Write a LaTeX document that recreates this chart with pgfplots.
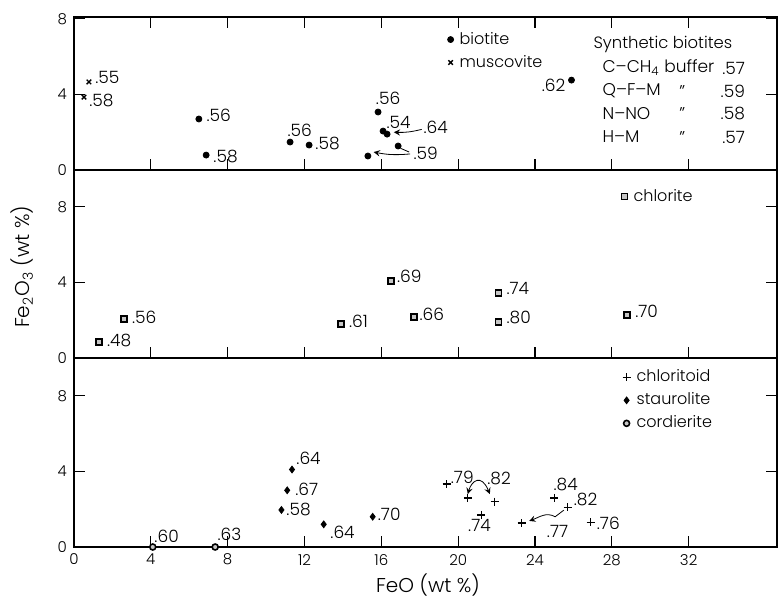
\documentclass[border=0pt]{standalone}
\usepackage{fontspec}
\IfFontExistsTF{Poppins Light}{\setmainfont{Poppins Light}}{\setmainfont{Poppins}}
\usepackage{pgfplots}
\pgfplotsset{compat=1.18}

\pgfplotsset{
  panel/.style={
    scale only axis, width=351.5pt, anchor=south west,
    xmin=0, xmax=36.6, xtick={0,4,...,32}, ytick={0,4,8},
    tick align=inside, major tick length=5.5pt,
    axis line style={line width=0.7pt},
    every tick/.append style={line width=0.6pt, black},
    tick label style={font=\fontsize{7.5}{9}\selectfont},
    /pgf/number format/assume math mode=true,
    clip=false,
    legend image code/.code={\draw[##1] plot coordinates {(0pt,0pt)};},
    legend style={draw=none, fill=none, inner sep=0pt, column sep=2pt, row sep=2pt,
      font=\fontsize{8}{9}\selectfont,
      nodes={inner sep=1pt, text height=6pt, text depth=1.5pt}},
    legend cell align=left,
  },
}
\tikzset{lab/.style={font=\fontsize{8.5}{10}\selectfont, inner sep=0pt}}

\begin{document}
\begin{tikzpicture}
\path[use as bounding box] (0pt,0pt) rectangle (389.5pt,299.5pt);

% ---- bottom panel: chloritoid, staurolite, cordierite
\begin{axis}[panel, at={(37pt,26pt)}, height=94.5pt, ymin=0, ymax=10,
  xtick pos=left,
  legend style={at={(axis cs:28.54,9.5)}, anchor=north west}]
\addplot[only marks, mark=+, mark size=2pt, line width=0.7pt] coordinates {
  (19.4,3.33) (20.5,2.6) (21.9,2.4) (21.2,1.7) (23.3,1.27)
  (25.0,2.6) (25.7,2.1) (26.9,1.3)};
\addlegendentry{chloritoid}
\addplot[only marks, mark=diamond*, mark size=1.7pt] coordinates {
  (11.35,4.1) (11.1,3.0) (10.8,1.96) (13.0,1.2) (15.55,1.6)};
\addlegendentry{staurolite}
\addplot[only marks, mark=*, mark size=1.5pt, mark options={fill=gray!45, line width=0.8pt}] coordinates {
  (4.1,0) (7.35,0)};
\addlegendentry{cordierite}
\node[lab, anchor=west] at (axis cs:4.17,0.58) {.60};
\node[lab, anchor=west] at (axis cs:7.45,0.69) {.63};
\node[lab, anchor=west] at (axis cs:11.56,4.7) {.64};
\node[lab, anchor=west] at (axis cs:11.5,3.07) {.67};
\node[lab, anchor=west] at (axis cs:11.04,1.96) {.58};
\node[lab, anchor=west] at (axis cs:13.33,0.8) {.64};
\node[lab, anchor=west] at (axis cs:15.8,1.75) {.70};
\node[lab, anchor=west] at (axis cs:19.6,3.7) {.79};
\node[lab, anchor=west] at (axis cs:21.5,3.65) {.82};
\node[lab, anchor=west] at (axis cs:20.5,1.16) {.74};
\node[lab, anchor=west] at (axis cs:24.95,3.3) {.84};
\node[lab, anchor=west] at (axis cs:26.0,2.49) {.82};
\node[lab, anchor=west] at (axis cs:24.6,0.8) {.77};
\node[lab, anchor=west] at (axis cs:27.2,1.27) {.76};
\draw[stealth-stealth, line width=0.4pt] (axis cs:20.5,2.8) .. controls (axis cs:20.7,3.5) and (axis cs:21.2,3.9) .. (axis cs:21.65,2.8);
\draw[-stealth, line width=0.4pt] (axis cs:25.5,1.95) -- (axis cs:25.05,1.6) to[out=150,in=20] (axis cs:23.7,1.38);
\end{axis}

% ---- middle panel: chlorite
\begin{axis}[panel, at={(37pt,120.5pt)}, height=94pt, ymin=0, ymax=9.95,
  xtick pos=left, xticklabels={},
  legend style={at={(axis cs:28.49,9.07)}, anchor=north west}]
\addplot[only marks, mark=square*, mark size=1.5pt, mark options={fill=gray!45, line width=0.8pt}] coordinates {
  (1.3,0.86) (2.6,2.06) (13.9,1.8) (16.5,4.07) (17.7,2.17)
  (22.1,3.44) (22.1,1.9) (28.8,2.27)};
\addlegendentry{chlorite}
\node[lab, anchor=west] at (axis cs:1.7,0.9) {.48};
\node[lab, anchor=west] at (axis cs:3.0,2.17) {.56};
\node[lab, anchor=west] at (axis cs:14.3,1.95) {.61};
\node[lab, anchor=west] at (axis cs:16.8,4.34) {.69};
\node[lab, anchor=west] at (axis cs:17.97,2.33) {.66};
\node[lab, anchor=west] at (axis cs:22.5,3.7) {.74};
\node[lab, anchor=west] at (axis cs:22.5,2.17) {.80};
\node[lab, anchor=west] at (axis cs:29.2,2.49) {.70};
\end{axis}

% ---- top panel: biotite, muscovite, synthetic biotites
\begin{axis}[panel, at={(37pt,214.5pt)}, height=76.5pt, ymin=0, ymax=8.1,
  xtick pos=both, xticklabels={},
  legend style={at={(axis cs:19.43,7.43)}, anchor=north west}]
\addplot[only marks, mark=*, mark size=1.5pt] coordinates {
  (6.5,2.7) (6.88,0.79) (11.25,1.48) (12.24,1.32) (15.3,0.74)
  (15.83,3.07) (16.09,2.06) (16.3,1.9) (16.875,1.27) (25.9,4.76)};
\addlegendentry{biotite}
\addplot[only marks, mark=x, mark size=1.6pt, line width=0.7pt] coordinates {
  (0.78,4.66) (0.52,3.86)};
\addlegendentry{muscovite}
\node[lab, anchor=west] at (axis cs:1.09,4.89) {.55};
\node[lab, anchor=west] at (axis cs:0.78,3.7) {.58};
\node[lab, anchor=west] at (axis cs:6.88,2.9) {.56};
\node[lab, anchor=west] at (axis cs:7.24,0.74) {.58};
\node[lab, anchor=west] at (axis cs:11.1,2.1) {.56};
\node[lab, anchor=west] at (axis cs:12.55,1.38) {.58};
\node[lab, anchor=west] at (axis cs:15.7,3.8) {.56};
\node[lab, anchor=west] at (axis cs:16.25,2.54) {.54};
\node[lab, anchor=west] at (axis cs:18.18,2.27) {.64};
\node[lab, anchor=west] at (axis cs:17.66,0.9) {.59};
\node[lab, anchor=east] at (axis cs:25.6,4.5) {.62};
\draw[-stealth, line width=0.4pt] (axis cs:18.1,2.15) to[bend left=8] (axis cs:16.65,2.0);
\draw[-stealth, line width=0.4pt] (axis cs:17.5,0.85) to[bend left=8] (axis cs:15.6,0.95);
\draw[line width=0.4pt] (axis cs:17.0,1.15) -- (axis cs:17.45,0.95);
% synthetic biotites block
\node[lab, anchor=west, font=\fontsize{8.2}{10}\selectfont] at (axis cs:27.03,6.67) {Synthetic biotites};
\node[lab, anchor=west] at (axis cs:27.5,5.4) {C--CH\textsubscript{4} buffer};
\node[lab, anchor=west] at (axis cs:27.5,4.18) {Q--F--M};
\node[lab, anchor=west] at (axis cs:27.5,3.0) {N--NO};
\node[lab, anchor=west] at (axis cs:27.5,1.75) {H--M};
\node[lab, anchor=north] at (axis cs:31.67,4.48) {\symbol{34}};
\node[lab, anchor=north] at (axis cs:31.67,3.3) {\symbol{34}};
\node[lab, anchor=north] at (axis cs:31.67,2.05) {\symbol{34}};
\node[lab, anchor=east] at (axis cs:34.95,5.4) {.57};
\node[lab, anchor=east] at (axis cs:34.95,4.18) {.59};
\node[lab, anchor=east] at (axis cs:34.95,3.0) {.58};
\node[lab, anchor=east] at (axis cs:34.95,1.75) {.57};
\end{axis}

% axis titles
\node[font=\fontsize{10}{12}\selectfont, inner sep=0pt] at (214pt,7pt) {FeO (wt \%)};
\node[font=\fontsize{10}{12}\selectfont, inner sep=0pt, rotate=90] at (11pt,166pt) {Fe\textsubscript{2}O\textsubscript{3} (wt \%)};
\end{tikzpicture}
\end{document}
